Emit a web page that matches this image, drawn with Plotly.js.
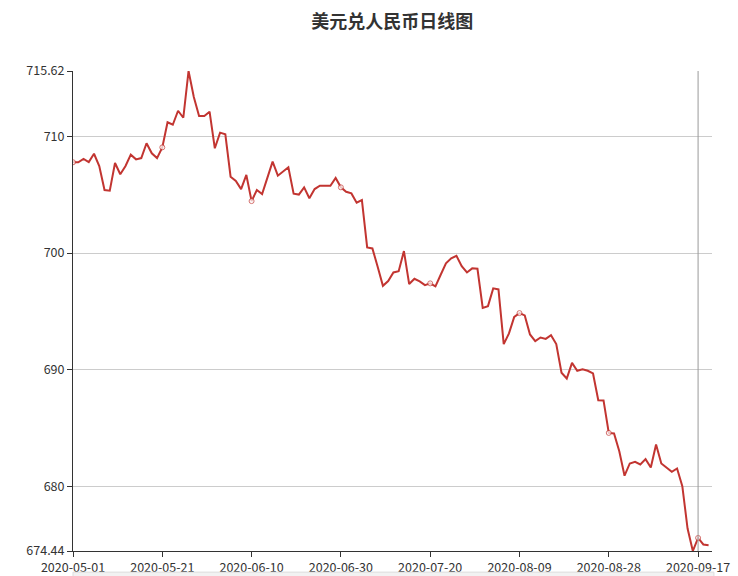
<!DOCTYPE html>
<html>
<head>
<meta charset="utf-8">
<script src="https://cdn.plot.ly/plotly-3.0.1.min.js"></script>
<style>
  html, body { margin: 0; padding: 0; background: #fff; }
  #chart { width: 738px; height: 576px; }
</style>
</head>
<body>
<div id="chart"></div>
<script>
// USD/CNY daily close, one value per trading session
var rates = [
  707.79, 707.79, 708.07, 707.81, 708.52, 707.47, 705.41, 705.35, 707.73, 706.76,
  707.47, 708.44, 708.04, 708.15, 709.42, 708.56, 708.15, 709.07, 711.22, 711.01,
  712.21, 711.61, 715.62, 713.39, 711.76, 711.76, 712.13, 708.99, 710.33, 710.19,
  706.55, 706.18, 705.49, 706.70, 704.46, 705.41, 705.06, 706.45, 707.84, 706.64,
  706.98, 707.36, 705.09, 705.02, 705.64, 704.70, 705.49, 705.78, 705.78, 705.78,
  706.44, 705.64, 705.26, 705.12, 704.32, 704.55, 700.49, 700.40, 698.82, 697.19,
  697.60, 698.34, 698.45, 700.17, 697.34, 697.79, 697.57, 697.25, 697.40, 697.14,
  698.14, 699.12, 699.55, 699.77, 698.88, 698.34, 698.69, 698.65, 695.30, 695.45,
  696.97, 696.88, 692.19, 693.11, 694.53, 694.85, 694.65, 693.02, 692.45, 692.76,
  692.64, 692.96, 692.19, 689.73, 689.24, 690.58, 689.90, 690.02, 689.90, 689.67,
  687.38, 687.36, 684.57, 684.52, 683.00, 680.90, 681.95, 682.09, 681.86, 682.32,
  681.60, 683.58, 681.95, 681.57, 681.23, 681.52, 680.00, 676.37, 674.44, 675.56,
  675.00, 674.94
];

var dateLabels = ['2020-05-01', '2020-05-21', '2020-06-10', '2020-06-30',
                  '2020-07-20', '2020-08-09', '2020-08-28', '2020-09-17'];
var labelStep = 17;   // sessions between two labelled dates

var yTicks = [674.44, 680, 690, 700, 710, 715.62];

var idx = rates.map(function (v, i) { return i; });
var symbolSize = idx.map(function (i) { return i % labelStep === 0 ? 5 : 0; });
var tickPos = dateLabels.map(function (d, i) { return i * labelStep; });

var trace = {
    x: idx,
    y: rates,
    mode: 'lines+markers',
    line: { color: '#c23531', width: 2 },
    marker: { size: symbolSize, color: '#fff', line: { color: '#c23531', width: 1 } },
    hoverinfo: 'none'
};

var font = "'Noto Sans CJK SC', 'Noto Sans', sans-serif";

var layout = {
    width: 738, height: 576,
    margin: { l: 73, r: 26, t: 71, b: 25, pad: 0 },
    paper_bgcolor: '#fff', plot_bgcolor: '#fff',
    showlegend: false,
    font: { family: font, size: 12.5, color: '#333' },
    title: { text: '美元兑人民币日线图', x: 0.5315, xanchor: 'center', y: 0.962, yanchor: 'middle',
             font: { family: font, size: 18, color: '#333', weight: 'bold' } },
    xaxis: {
        range: [0, 121.65],
        tickmode: 'array', tickvals: tickPos, ticktext: dateLabels,
        showgrid: false, zeroline: false,
        showline: true, linecolor: '#333', linewidth: 1,
        ticks: 'outside', ticklen: 5, tickcolor: '#333',
        tickfont: { size: 12.5, color: '#333' }
    },
    yaxis: {
        range: [674.44, 715.62],
        tickmode: 'array', tickvals: yTicks,
        showgrid: true, gridcolor: '#ccc', gridwidth: 1, zeroline: false,
        showline: true, linecolor: '#333', linewidth: 1,
        ticks: 'outside', ticklen: 5, tickcolor: '#333',
        tickfont: { size: 12.5, color: '#333' }
    },
    shapes: [
        { type: 'line', xref: 'x', yref: 'paper', x0: 119, x1: 119, y0: 0, y1: 1,
          line: { color: '#999', width: 1 } },
        { type: 'rect', xref: 'paper', yref: 'paper', x0: 0, x1: 1.003, y0: -0.044, y1: -0.07,
          fillcolor: '#f2f2f2', line: { color: '#ddd', width: 1 } }
    ]
};

Plotly.newPlot('chart', [trace], layout, { displayModeBar: false, staticPlot: true });
</script>
</body>
</html>
